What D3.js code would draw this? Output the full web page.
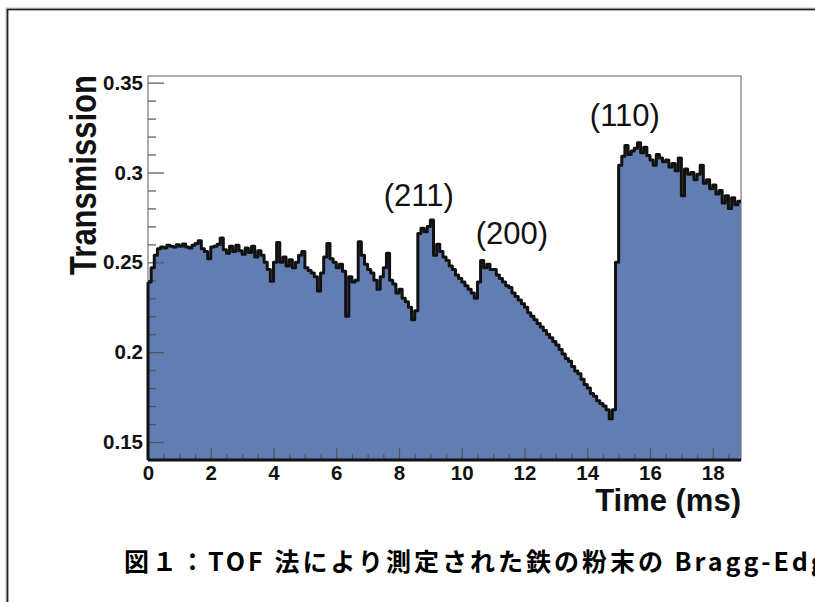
<!DOCTYPE html>
<html>
<head>
<meta charset="utf-8">
<script src="https://cdn.jsdelivr.net/npm/d3@7"></script>
<style>
  html, body { margin: 0; padding: 0; background: #fff; }
  svg { display: block; }
</style>
</head>
<body>
<svg id="chart" width="815" height="602"></svg>
<script>
// Neutron transmission of iron powder vs. time of flight, 0.1 ms bins
const binWidth = 0.1;
const transmission = [
  0.2390, 0.2470, 0.2540, 0.2575, 0.2585, 0.2580, 0.2595, 0.2590, 0.2585, 0.2598,
  0.2590, 0.2602, 0.2585, 0.2580, 0.2595, 0.2605, 0.2620, 0.2575, 0.2560, 0.2520,
  0.2585, 0.2590, 0.2600, 0.2635, 0.2570, 0.2550, 0.2590, 0.2560, 0.2595, 0.2565,
  0.2545, 0.2580, 0.2555, 0.2590, 0.2530, 0.2565, 0.2540, 0.2500, 0.2460, 0.2395,
  0.2500, 0.2610, 0.2500, 0.2530, 0.2480, 0.2515, 0.2470, 0.2500, 0.2540, 0.2560,
  0.2470, 0.2455, 0.2440, 0.2420, 0.2340, 0.2440, 0.2530, 0.2605, 0.2520, 0.2500,
  0.2470, 0.2490, 0.2450, 0.2200, 0.2420, 0.2390, 0.2400, 0.2615, 0.2540, 0.2490,
  0.2460, 0.2440, 0.2400, 0.2350, 0.2420, 0.2470, 0.2550, 0.2400, 0.2380, 0.2330,
  0.2350, 0.2300, 0.2280, 0.2250, 0.2180, 0.2230, 0.2660, 0.2690, 0.2670, 0.2700,
  0.2735, 0.2540, 0.2600, 0.2560, 0.2530, 0.2510, 0.2480, 0.2460, 0.2430, 0.2410,
  0.2390, 0.2370, 0.2350, 0.2330, 0.2300, 0.2390, 0.2510, 0.2470, 0.2490, 0.2460,
  0.2460, 0.2430, 0.2410, 0.2390, 0.2370, 0.2360, 0.2330, 0.2310, 0.2290, 0.2270,
  0.2250, 0.2220, 0.2200, 0.2180, 0.2160, 0.2140, 0.2120, 0.2100, 0.2080, 0.2060,
  0.2040, 0.2015, 0.1990, 0.1965, 0.1950, 0.1920, 0.1895, 0.1880, 0.1850, 0.1820,
  0.1800, 0.1770, 0.1755, 0.1730, 0.1715, 0.1700, 0.1680, 0.1630, 0.1680, 0.2500,
  0.3040, 0.3090, 0.3150, 0.3100, 0.3120, 0.3135, 0.3165, 0.3110, 0.3140, 0.3095,
  0.3070, 0.3040, 0.3100, 0.3080, 0.3060, 0.3070, 0.3030, 0.3050, 0.3010, 0.3080,
  0.2870, 0.3020, 0.2990, 0.3000, 0.2960, 0.2990, 0.3040, 0.2940, 0.2960, 0.2910,
  0.2930, 0.2880, 0.2900, 0.2830, 0.2870, 0.2800, 0.2860, 0.2820, 0.2840
];

const xMajorTicks = [0, 2, 4, 6, 8, 10, 12, 14, 16, 18];
const yMajorTicks = [0.15, 0.2, 0.25, 0.3, 0.35];
const yTickLabels = ["0.15", "0.2", "0.25", "0.3", "0.35"];

// Bragg edge labels (Miller indices) and where each sits
const edgeLabels = ["(211)", "(200)", "(110)"];
const edgeLabelTimes = [8.63, 11.6, 15.2];
const edgeLabelValues = [0.2812, 0.2600, 0.3260];

const xTitle = "Time (ms)";
const yTitle = "Transmission";
const caption = "図１：TOF 法により測定された鉄の粉末の Bragg-Edge";

const svg = d3.select("#chart");
const plot = { left: 148, right: 741, top: 76, bottom: 460 };

const x = d3.scaleLinear().domain([0, transmission.length * binWidth]).range([plot.left, plot.right]);
const y = d3.scaleLinear().domain([0.14, 0.3537]).range([plot.bottom, plot.top]);

// page frame
svg.append("path")
  .attr("d", "M7,602 V9 H815")
  .attr("fill", "none")
  .attr("stroke", "#bbb")
  .attr("stroke-width", 3);
svg.append("path")
  .attr("d", "M7.5,602 V9.5 H815")
  .attr("fill", "none")
  .attr("stroke", "#222")
  .attr("stroke-width", 1.6);

// histogram points: each bin value, plus a closing point at the right edge
const pts = transmission.map((v, i) => [i * binWidth, v]);
pts.push([transmission.length * binWidth, transmission[transmission.length - 1]]);

const area = d3.area()
  .curve(d3.curveStepAfter)
  .x(d => x(d[0]))
  .y0(y(y.domain()[0]))
  .y1(d => y(d[1]));

svg.append("path")
  .datum(pts)
  .attr("d", area)
  .attr("fill", "#627db2");

// plot frame (thin grey)
svg.append("rect")
  .attr("x", plot.left).attr("y", plot.top)
  .attr("width", plot.right - plot.left).attr("height", plot.bottom - plot.top)
  .attr("fill", "none")
  .attr("stroke", "#777")
  .attr("stroke-width", 1.2);

// ticks (inward)
const yMinor = d3.range(0.14, 0.3501, 0.01).map(v => +v.toFixed(2)).filter(v => !yMajorTicks.includes(v));
const xMinor = d3.range(0, 18.9, 0.5).filter(v => !xMajorTicks.includes(v));

const yAxisMinor = svg.append("g")
  .attr("transform", `translate(${plot.left},0)`)
  .call(d3.axisLeft(y).tickValues(yMinor).tickSize(-8).tickFormat(""));
const yAxisMajor = svg.append("g")
  .attr("transform", `translate(${plot.left},0)`)
  .call(d3.axisLeft(y).tickValues(yMajorTicks).tickSize(-16).tickPadding(5)
    .tickFormat((d, i) => yTickLabels[i]));
const xAxisMinor = svg.append("g")
  .attr("transform", `translate(0,${plot.bottom})`)
  .call(d3.axisBottom(x).tickValues(xMinor).tickSize(-6).tickFormat(""));
const xAxisMajor = svg.append("g")
  .attr("transform", `translate(0,${plot.bottom})`)
  .call(d3.axisBottom(x).tickValues(xMajorTicks).tickSize(-12).tickPadding(5).tickFormat(d3.format("d")));

[yAxisMinor, yAxisMajor, xAxisMinor, xAxisMajor].forEach(g => {
  g.select(".domain").remove();
  g.selectAll(".tick line").attr("stroke", "#555").attr("stroke-width", 1.2);
});
[yAxisMajor, xAxisMajor].forEach(g => {
  g.selectAll(".tick text")
    .attr("fill", "#111")
    .style("font-family", "'Liberation Sans', Arial, sans-serif")
    .style("font-weight", "bold")
    .style("font-size", "20.5px");
});
xAxisMajor.selectAll(".tick text").attr("dy", "0.72em");

// histogram outline: left edge, stepped top, and baseline
svg.append("line")
  .attr("x1", x(0)).attr("x2", x(0))
  .attr("y1", plot.bottom).attr("y2", y(transmission[0]))
  .attr("stroke", "#111").attr("stroke-width", 3);
const outline = d3.line()
  .curve(d3.curveStepAfter)
  .x(d => x(d[0]))
  .y(d => y(d[1]));
svg.append("path")
  .datum(pts)
  .attr("d", outline)
  .attr("fill", "none")
  .attr("stroke", "#111")
  .attr("stroke-width", 3)
  .attr("stroke-linejoin", "round");
svg.append("line")
  .attr("x1", plot.left).attr("x2", plot.right)
  .attr("y1", plot.bottom).attr("y2", plot.bottom)
  .attr("stroke", "#111").attr("stroke-width", 3);

// axis titles
svg.append("text")
  .attr("transform", `translate(${plot.right},511)`)
  .attr("text-anchor", "end")
  .style("font-family", "'Liberation Sans', Arial, sans-serif")
  .style("font-weight", "bold")
  .style("font-size", "31px")
  .attr("fill", "#111")
  .text(xTitle);

svg.append("text")
  .attr("transform", `translate(96,175) scale(1.2,1) rotate(-90)`)
  .attr("text-anchor", "middle")
  .style("font-family", "'Liberation Sans', Arial, sans-serif")
  .style("font-weight", "bold")
  .style("font-size", "31px")
  .attr("fill", "#111")
  .text(yTitle);

// Bragg edge labels
svg.selectAll("text.edge")
  .data(edgeLabels)
  .join("text")
  .attr("class", "edge")
  .attr("x", (d, i) => x(edgeLabelTimes[i]))
  .attr("y", (d, i) => y(edgeLabelValues[i]))
  .attr("text-anchor", "middle")
  .style("font-family", "'Liberation Sans', Arial, sans-serif")
  .style("font-size", "31px")
  .attr("fill", "#111")
  .text(d => d);

// caption
svg.append("text")
  .attr("x", 124)
  .attr("y", 571)
  .style("font-family", "'Noto Sans CJK JP', sans-serif")
  .style("font-weight", "bold")
  .style("font-size", "25px")
  .style("letter-spacing", "3px")
  .attr("fill", "#000")
  .text(caption);
</script>
</body>
</html>
